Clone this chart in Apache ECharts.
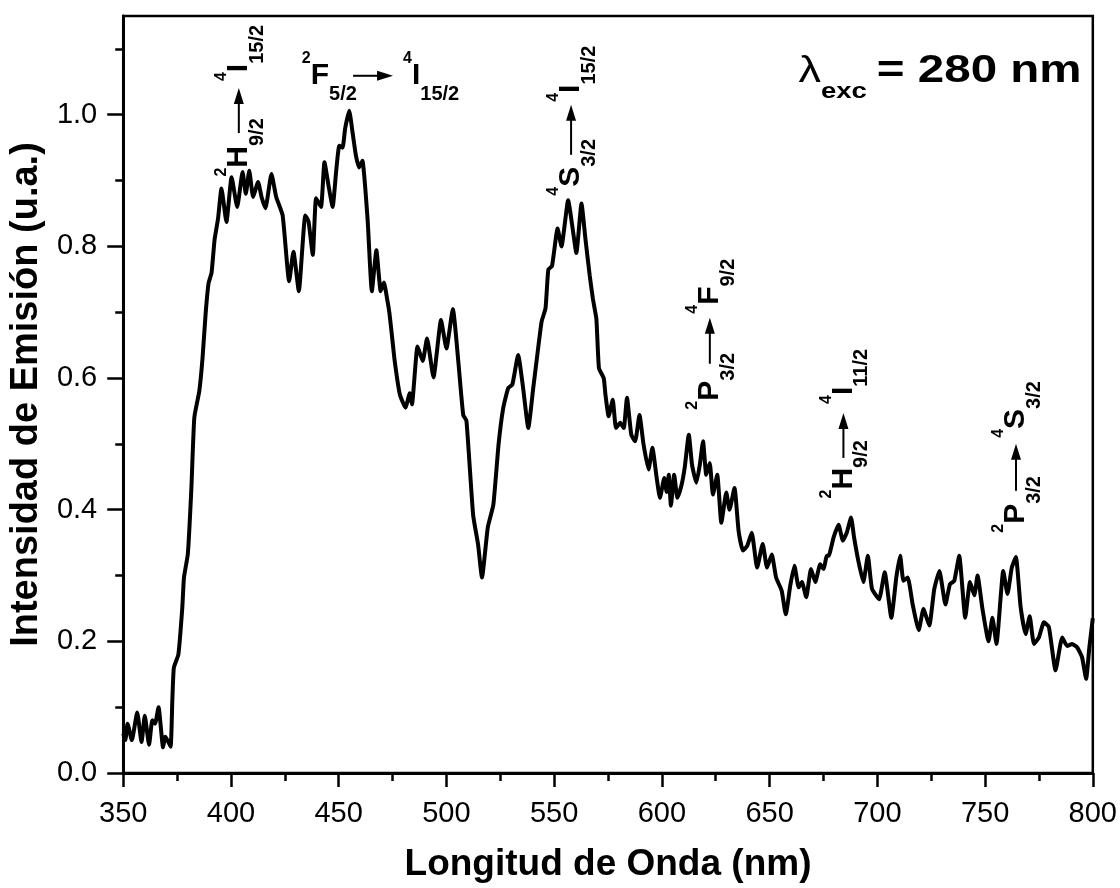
<!DOCTYPE html>
<html><head><meta charset="utf-8">
<script src="https://cdn.jsdelivr.net/npm/echarts@6/dist/echarts.min.js"></script>
<style>html,body{margin:0;padding:0;background:#fff}#c{width:1120px;height:888px}</style>
</head><body><div id="c"></div>
<script>
const wavelength = [350,351,352,354,356.5,358.5,360,362,363.5,364.8,366.4,368.5,369.5,370.5,372,372.8,373.5,375.6,377.4,378.2,380,381.6,383,385.3,386.8,388.3,389.6,391,392.4,394,395.6,397.9,400.3,402.9,405.4,406.9,408.5,410.3,412.6,414.2,416,418.8,421,424,427,429,431.5,434.5,436,438,439.5,441.8,443.4,445.4,447.2,448.8,450.3,451.8,453,454.9,456.4,458,459.5,461,463.4,465.4,467.5,469.5,471,472.5,473.5,474.5,476,478.4,481,483,484,486.6,489,491,494,497.5,500,503,505.5,507.8,509.3,512.4,514.7,516.5,519.2,521.8,524.2,526.4,528.7,530.6,533.3,535.6,538,540.3,542.3,544.2,546,547.3,549,551.6,553.4,556.5,558.8,560.3,562.7,564.5,566.5,568,569.6,570.8,573,573.8,575.3,577.2,578.7,580.7,582.3,583.8,585.8,587.6,589.6,591.5,593.8,595.6,597.6,599.1,601.1,602.2,603.2,604.2,605.7,607.2,609.1,610.6,612.5,614,616,617.6,619.1,620.6,622.2,623.7,625.7,627.6,629.9,631.4,633.7,635.6,637.6,639.6,641.7,644.2,646.8,648.8,651,653,655.6,657.5,659.6,661.5,663.5,665,667,669.2,671.2,673.5,675,676.6,677.4,679.7,682,684,685.8,687.8,689.2,691.2,693.5,695.6,697.5,700.8,703.4,706.5,708.8,710.6,712.1,714.1,716.4,719.2,721.4,724.1,726.4,728.8,731.6,733.7,735.7,738,740.8,743,745,746.5,748.8,751.6,753.4,755.3,757.3,758.4,760.4,762.4,764.3,766.5,768.8,770.7,772.7,775,777.3,779.6,782.7,785.8,788.1,790.4,792.7,795,796.9,798.4,800];
const intensity = [0.06,0.05,0.075,0.05,0.092,0.047,0.087,0.043,0.08,0.075,0.1,0.039,0.055,0.05,0.04,0.111,0.16,0.18,0.25,0.297,0.333,0.43,0.54,0.58,0.63,0.70,0.744,0.76,0.81,0.842,0.888,0.837,0.905,0.86,0.913,0.88,0.915,0.875,0.898,0.875,0.858,0.91,0.875,0.847,0.747,0.792,0.732,0.847,0.838,0.787,0.873,0.86,0.928,0.89,0.86,0.913,0.953,0.95,0.979,1.006,0.974,0.938,0.92,0.93,0.842,0.732,0.794,0.732,0.745,0.72,0.70,0.671,0.626,0.575,0.555,0.577,0.56,0.648,0.626,0.66,0.601,0.688,0.645,0.705,0.626,0.544,0.535,0.392,0.347,0.297,0.373,0.408,0.499,0.555,0.585,0.59,0.635,0.585,0.524,0.585,0.638,0.686,0.706,0.765,0.77,0.827,0.8,0.87,0.822,0.79,0.865,0.812,0.756,0.72,0.69,0.615,0.6,0.575,0.542,0.567,0.524,0.532,0.524,0.57,0.514,0.504,0.544,0.499,0.461,0.494,0.448,0.418,0.448,0.427,0.453,0.406,0.453,0.418,0.437,0.464,0.514,0.468,0.441,0.468,0.504,0.453,0.471,0.423,0.453,0.38,0.426,0.4,0.433,0.368,0.338,0.345,0.365,0.312,0.348,0.312,0.332,0.297,0.277,0.241,0.285,0.315,0.282,0.29,0.267,0.31,0.29,0.317,0.31,0.33,0.33,0.358,0.377,0.353,0.365,0.388,0.358,0.322,0.29,0.33,0.28,0.264,0.305,0.236,0.297,0.33,0.292,0.297,0.256,0.217,0.249,0.224,0.279,0.307,0.256,0.287,0.292,0.33,0.236,0.29,0.27,0.3,0.249,0.2,0.236,0.196,0.27,0.307,0.272,0.312,0.328,0.252,0.211,0.238,0.196,0.206,0.229,0.222,0.156,0.206,0.193,0.196,0.191,0.176,0.143,0.191,0.235];
const xMajorTicks = [350,400,450,500,550,600,650,700,750,800];
const xMinorTicks = [375,425,475,525,575,625,675,725,775];
const yMajorTicks = [0,0.2,0.4,0.6,0.8,1.0];
const yMinorTicks = [0.1,0.3,0.5,0.7,0.9,1.1];
const xTitle = 'Longitud de Onda (nm)';
const yTitle = 'Intensidad de Emisión (u.a.)';
const transitions = [
  {at:[408.3,0.906], vertical:true,  from:['2','H','9/2'], to:['4','I','15/2'], gap:13, len:45, after:7},
  {at:[432.9,1.044], vertical:false, from:['2','F','5/2'], to:['4','I','15/2'], gap:24, len:40, after:10},
  {at:[562.5,0.877], vertical:true,  from:['4','S','3/2'], to:['4','I','15/2'], gap:12, len:50, after:3},
  {at:[626.9,0.552], vertical:true,  from:['2','P','3/2'], to:['4','F','9/2'], gap:17, len:46, after:4},
  {at:[688.9,0.417], vertical:true,  from:['2','H','9/2'], to:['4','I','11/2'], gap:10, len:45, after:9},
  {at:[769.0,0.365], vertical:true,  from:['2','P','3/2'], to:['4','S','3/2'], gap:13, len:47, after:6}
];
const excLabel = {at:[663.4,1.047], symbol:'λ', sub:'exc', text:'= 280 nm'};

const FAM = '"Liberation Sans", Arial, Helvetica, sans-serif';
const MID = 0.33;
const chart = echarts.init(document.getElementById('c'), null, {renderer:'canvas'});
const data = wavelength.map((w,i)=>[w, intensity[i]]);
const axisLine = {show:true, lineStyle:{color:'#000', width:3}};
const option = {
  backgroundColor:'#fff',
  animation:false,
  grid:{left:121, right:27, top:16, bottom:112, show:true, borderColor:'#000', borderWidth:2.5, backgroundColor:'transparent'},
  xAxis:[
    {type:'value', min:350, max:800, interval:50, position:'bottom',
     axisLine, axisTick:{show:true, inside:false, length:14, lineStyle:{color:'#000', width:2.5}, customValues:xMajorTicks},
     axisLabel:{show:true, margin:26, fontSize:29, color:'#000', fontFamily:FAM, customValues:xMajorTicks},
     splitLine:{show:false},
     name:xTitle, nameLocation:'middle', nameGap:73,
     nameTextStyle:{fontSize:37, fontWeight:'bold', color:'#000', fontFamily:FAM}},
    {type:'value', min:350, max:800, interval:25, position:'bottom',
     axisLine:{show:false}, axisTick:{show:true, inside:false, length:8, lineStyle:{color:'#000', width:2.5}, customValues:xMinorTicks},
     axisLabel:{show:false}, splitLine:{show:false}}
  ],
  yAxis:[
    {type:'value', min:0, max:1.15, interval:0.2, position:'left',
     axisLine, axisTick:{show:true, inside:false, length:16, lineStyle:{color:'#000', width:2.5}, customValues:yMajorTicks},
     axisLabel:{show:true, margin:26, fontSize:29, color:'#000', fontFamily:FAM, customValues:yMajorTicks, formatter:v=>Number(v).toFixed(1)},
     splitLine:{show:false},
     name:yTitle, nameLocation:'middle', nameGap:63,
     nameTextStyle:{fontSize:38, fontWeight:'bold', color:'#000', fontFamily:FAM}},
    {type:'value', min:0, max:1.15, interval:0.1, position:'left',
     axisLine:{show:false}, axisTick:{show:true, inside:false, length:8, lineStyle:{color:'#000', width:2.5}, customValues:yMinorTicks},
     axisLabel:{show:false}, splitLine:{show:false}}
  ],
  series:[{
    type:'line', data, xAxisIndex:0, yAxisIndex:0, showSymbol:false, smooth:0.15,
    lineStyle:{color:'#000', width:4}, itemStyle:{color:'#000'}, clip:true
  }]
};
chart.setOption(option);

const mctx = document.createElement('canvas').getContext('2d');
function tw(str, font){ mctx.font = font; return mctx.measureText(str).width; }

function buildTransition(t){
  const p = chart.convertToPixel({xAxisIndex:0, yAxisIndex:0}, t.at);
  const kids = [];
  let cur = 0;
  function seg(str, kind){
    const size = kind==='sup'?16:(kind==='main'?30:20);
    const base = kind==='sup'?-22:(kind==='main'?0:15);
    const font = 'bold ' + size + 'px ' + FAM;
    kids.push({type:'text', x:cur, y:base - MID*size, silent:true,
      style:{text:str, font:font, fill:'#000', align:'left', verticalAlign:'middle'}});
    return tw(str, font);
  }
  cur += seg(t.from[0],'sup');
  cur += seg(t.from[1],'main');
  const mainEnd = cur;
  seg(t.from[2],'sub');
  const a0 = mainEnd + t.gap, a1 = a0 + t.len;
  kids.push({type:'line', silent:true, shape:{x1:a0, y1:-10, x2:a1-12, y2:-10}, style:{stroke:'#000', lineWidth:2}});
  kids.push({type:'polygon', silent:true, shape:{points:[[a1,-10],[a1-16,-15],[a1-16,-5]]}, style:{fill:'#000'}});
  cur = a1 + t.after;
  cur += seg(t.to[0],'sup');
  cur += seg(t.to[1],'main');
  seg(t.to[2],'sub');
  return {type:'group', x:p[0], y:p[1], rotation: t.vertical?Math.PI/2:0, children:kids, silent:true};
}

function buildExc(e){
  const p = chart.convertToPixel({xAxisIndex:0, yAxisIndex:0}, e.at);
  const kids = [];
  const f1 = '36px ' + FAM, f2 = 'bold 22px ' + FAM, f3 = 'bold 38px ' + FAM;
  let cur = 0;
  kids.push({type:'text', x:cur, y:-MID*36, style:{text:e.symbol, font:f1, fill:'#000', verticalAlign:'middle'}});
  cur += tw(e.symbol, f1);
  kids.push({type:'text', x:cur, y:15-MID*22, style:{text:e.sub, font:f2, fill:'#000', verticalAlign:'middle'}});
  cur += tw(e.sub, f2) + 8;
  kids.push({type:'text', x:cur, y:-MID*38, style:{text:e.text, font:f3, fill:'#000', verticalAlign:'middle'}});
  return {type:'group', x:p[0], y:p[1], scaleX:1.25, scaleY:1, children:kids, silent:true};
}

const graphics = transitions.map(buildTransition);
graphics.push(buildExc(excLabel));
chart.setOption({graphic:graphics});
</script></body></html>
